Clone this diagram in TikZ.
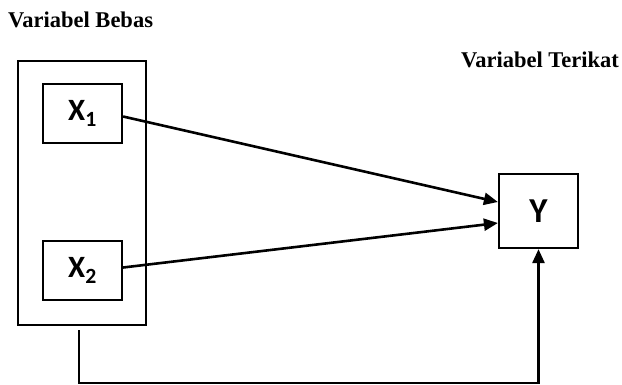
\documentclass[tikz,border=0pt]{standalone}
\usepackage{fontspec}
\setmainfont{Liberation Serif}
\newfontfamily\labfont{Carlito}
\usetikzlibrary{arrows.meta}
\begin{document}
\begin{tikzpicture}[x=1pt,y=-1pt,
  varbox/.style={draw,line width=2.2pt,minimum width=79pt,inner sep=0pt,font=\labfont\bfseries\fontsize{31}{31}\selectfont},
  title/.style={font=\bfseries\fontsize{22.5}{22.5}\selectfont,inner sep=0pt},
  conn/.style={line width=2.6pt,-{Triangle[length=14pt,width=12pt]}}]
\useasboundingbox (0,0) rectangle (622,384);
\node[title,anchor=west] (tb) at (8,20) {Variabel Bebas};
\node[title,anchor=east] (tt) at (619,60) {Variabel Terikat};
\node[draw,line width=2.2pt,minimum width=128pt,minimum height=264pt,inner sep=0pt] (outer) at (82,193) {};
\node[varbox,minimum height=59pt] (x1) at (82.5,113.5) {X\textsubscript{1}};
\node[varbox,minimum height=59pt] (x2) at (82.5,270.5) {X\textsubscript{2}};
\node[varbox,minimum height=74pt,font=\labfont\bfseries\fontsize{35}{35}\selectfont] (y) at (538.5,211) {Y};
\draw[conn] ([yshift=-3pt]x1.east) -- ([yshift=9pt]y.west);
\draw[conn] ([yshift=3pt]x2.east) -- ([yshift=-12pt]y.west);
\coordinate (bs) at ([xshift=-3pt,yshift=-4pt]outer.south);
\draw[conn] (bs) -- ++(0,53) -| (y.south);
\end{tikzpicture}
\end{document}
